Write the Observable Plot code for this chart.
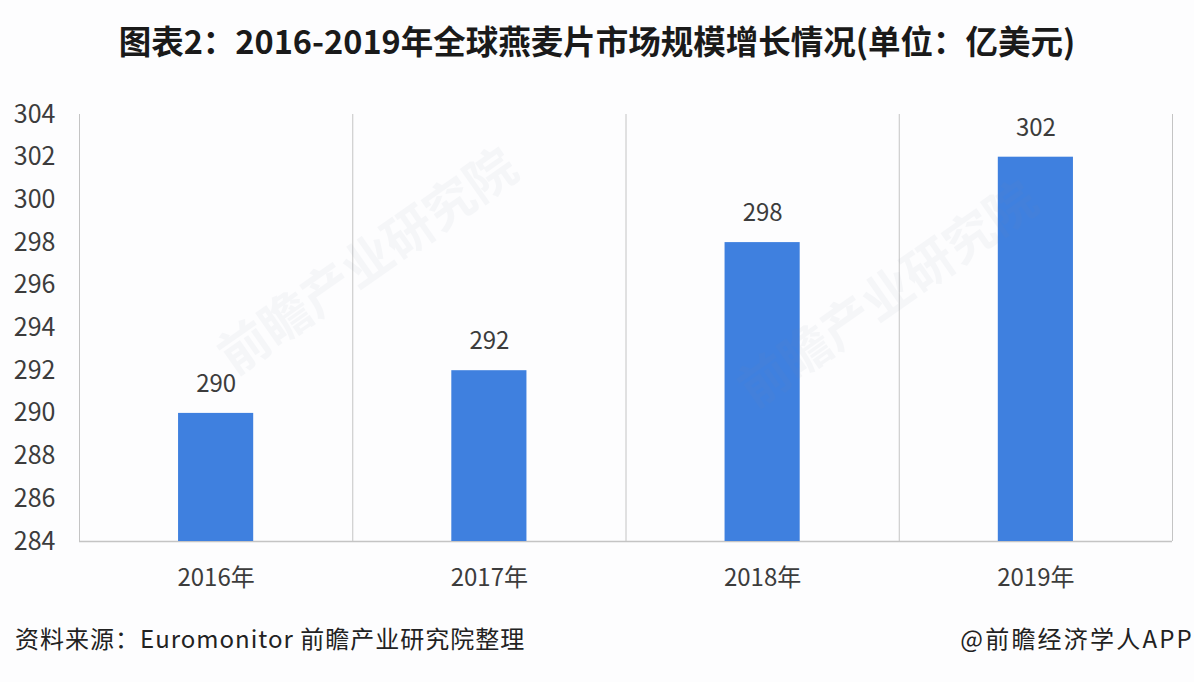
<!DOCTYPE html>
<html lang="zh">
<head>
<meta charset="utf-8">
<script src="https://cdn.jsdelivr.net/npm/d3@7"></script>
<script src="https://cdn.jsdelivr.net/npm/@observablehq/plot@0.6"></script>
<style>
  html, body { margin: 0; padding: 0; background: #fdfdfe; }
  body { width: 1194px; height: 682px; position: relative; overflow: hidden;
         font-family: "Noto Sans CJK SC", "Noto Sans", sans-serif; }
  #title { position: absolute; left: 0; top: 16px; width: 1194px; text-align: center; white-space: nowrap;
           font-size: 32.5px; font-weight: 700; line-height: 48px; color: #1a1a1a; }
  #chart { position: absolute; left: 0; top: 90px; }
  #chart svg { display: block; }
  .foot { position: absolute; top: 620px; font-size: 24px; line-height: 36px; color: #222; white-space: nowrap; }
  #source { left: 15px; letter-spacing: 1px; }
  #credit { right: 0; letter-spacing: 2.2px; }
  .mark { position: absolute; font-size: 50px; font-weight: 700; color: #7f8fa8; opacity: .06;
          white-space: nowrap; transform: rotate(-35deg); transform-origin: left center; pointer-events: none; }
</style>
</head>
<body>
<div id="title"></div>
<div id="chart"></div>
<div class="mark" style="left:222px;top:322px">前瞻产业研究院</div>
<div class="mark" style="left:742px;top:355px">前瞻产业研究院</div>
<div id="source" class="foot"></div>
<div id="credit" class="foot"></div>
<script>
const titleText = "图表2：2016-2019年全球燕麦片市场规模增长情况(单位：亿美元)";
const sourceText = "资料来源：Euromonitor 前瞻产业研究院整理";
const creditText = "@前瞻经济学人APP";
const years = ["2016年", "2017年", "2018年", "2019年"];
const values = [290, 292, 298, 302];
const yDomain = [284, 304];
const yTicks = d3.range(284, 306, 2);

document.getElementById("title").textContent = titleText;
document.getElementById("source").textContent = sourceText;
document.getElementById("credit").textContent = creditText;

const table = years.map((year, i) => ({year, value: values[i]}));
const marginLeft = 79, marginRight = 22, W = 1194;
const halfBand = (W - marginLeft - marginRight) / years.length / 2;
const ink = "#3c3c3c";

const chart = Plot.plot({
  width: W,
  height: 520,
  marginTop: 24,
  marginBottom: 69,
  marginLeft,
  marginRight,
  style: {background: "transparent", fontFamily: '"Noto Sans CJK SC", sans-serif', overflow: "visible"},
  x: {domain: years, paddingInner: 0.725, paddingOuter: 0.3625, round: false, label: null},
  y: {domain: yDomain, label: null},
  marks: [
    Plot.ruleX(years, {x: d => d, dx: -halfBand, stroke: "#c4c4c4", strokeOpacity: 1, strokeWidth: 1}),
    Plot.ruleX(years.slice(-1), {x: d => d, dx: halfBand, stroke: "#c4c4c4", strokeOpacity: 1, strokeWidth: 1}),
    Plot.ruleY([yDomain[0]], {stroke: "#c4c4c4", strokeWidth: 1.5}),
    Plot.barY(table, {x: "year", y1: () => yDomain[0], y2: "value", fill: "#3f80df"}),
    Plot.text(table, {x: "year", y: "value", text: d => String(d.value), dy: -29, fontSize: 24, fill: ink, textAnchor: "middle"}),
    Plot.axisY({ticks: yTicks, tickFormat: d => String(d), tickSize: 0, tickPadding: 24, fontSize: 25, fill: ink, label: null}),
    Plot.axisX({tickSize: 0, tickPadding: 27, fontSize: 24, fill: ink, label: null})
  ]
});
document.getElementById("chart").appendChild(chart);
</script>
</body>
</html>
